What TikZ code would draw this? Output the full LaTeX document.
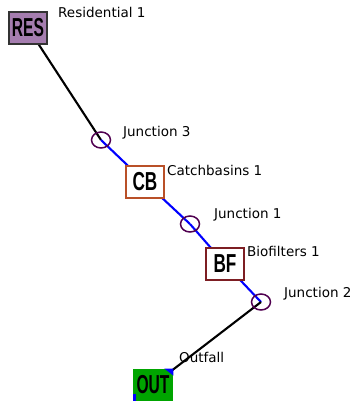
\documentclass[tikz,border=0pt]{standalone}
\usepackage{fontspec}
\setmainfont{DejaVu Sans}
\newfontfamily\boxfont{Liberation Sans}
\usetikzlibrary{shapes.geometric}
\pgfdeclarelayer{links}
\pgfsetlayers{links,main}
\definecolor{resfill}{RGB}{165,125,175}
\definecolor{cbedge}{RGB}{185,80,40}
\definecolor{bfedge}{RGB}{125,30,35}
\definecolor{juncedge}{RGB}{80,0,80}
\definecolor{outfill}{RGB}{0,165,0}
\definecolor{linkblue}{RGB}{0,0,255}
\tikzset{
  unitbox/.style={draw, line width=1.7pt, minimum width=38pt, minimum height=32pt,
    inner sep=0pt, font=\boxfont\bfseries\fontsize{26}{26}\selectfont},
  junc/.style={ellipse, draw=juncedge, line width=1.5pt, minimum width=19pt,
    minimum height=16pt, inner sep=0pt},
  lbl/.style={anchor=base west, inner sep=0pt, font=\fontsize{13.5}{14}\selectfont},
  drylink/.style={draw=black, line width=2.1pt},
  wetlink/.style={draw=linkblue, line width=2.1pt},
}
\begin{document}
\begin{tikzpicture}[x=1pt, y=-1pt]
\useasboundingbox (0,0) rectangle (359,402);

% storage / treatment units
\node[unitbox, fill=resfill, draw=black!80] (res) at (28,28) {\scalebox{0.6}[1]{RES}};
\node[unitbox, fill=white, draw=cbedge] (cb) at (145,182) {\scalebox{0.66}[1]{CB}};
\node[unitbox, fill=white, draw=bfedge] (bf) at (225,264) {\scalebox{0.66}[1]{BF}};
\node[unitbox, fill=outfill, draw=outfill, minimum width=39pt, minimum height=31pt] (out) at (153,385) {};

% junctions
\node[junc] (j3) at (101,140) {};
\node[junc] (j1) at (190,224) {};
\node[junc] (j2) at (261,302) {};

% links
\begin{pgfonlayer}{links}
\draw[drylink] (res.center) -- (j3.center);
\draw[wetlink] (j3.center) -- (cb.center);
\draw[wetlink] (cb.center) -- (j1.center);
\draw[wetlink] (j1.center) -- (bf.center);
\draw[wetlink] (bf.center) -- (j2.center);
\draw[drylink] (j2.center) -- (out.center);
\end{pgfonlayer}

% outfall: blue patches on the green block, then the label
\fill[linkblue] (out.north east) -- ++(-9,0) -- ++(9,7) -- cycle;
\fill[linkblue] (out.south west) rectangle ++(3,-7);
\node[font=\boxfont\bfseries\fontsize{26}{26}\selectfont] (outtxt) at (out.center) {\scalebox{0.6}[1]{OUT}};

% labels
\node[lbl] (lres) at (58,17) {Residential 1};
\node[lbl] (lj3) at (123,136) {Junction 3};
\node[lbl] (lcb) at (167,175) {Catchbasins 1};
\node[lbl] (lj1) at (214,218) {Junction 1};
\node[lbl] (lbf) at (247,256) {Biofilters 1};
\node[lbl] (lj2) at (284,297) {Junction 2};
\node[lbl] (lout) at (179,362) {Outfall};
\end{tikzpicture}
\end{document}
